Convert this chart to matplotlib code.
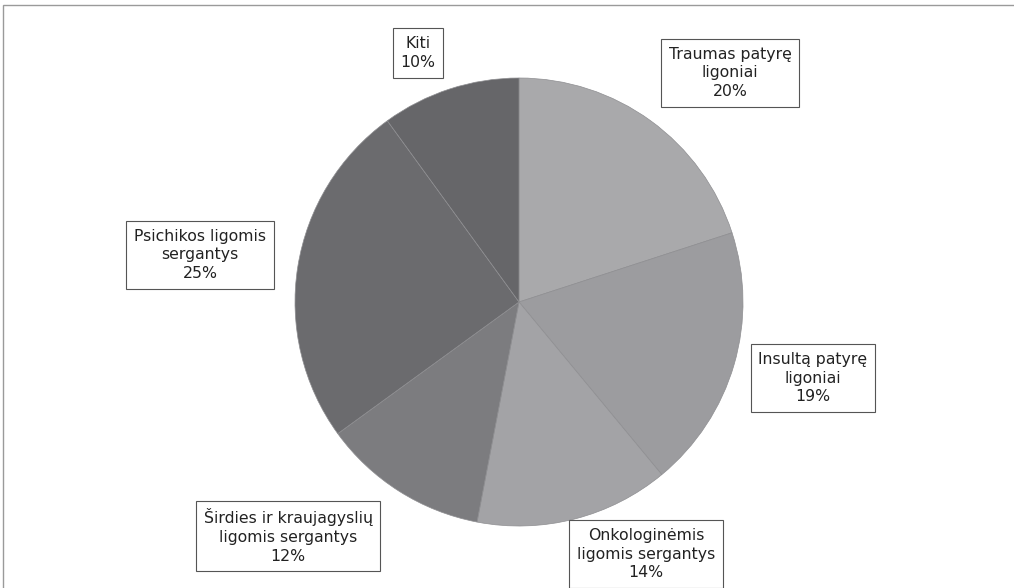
import matplotlib
matplotlib.use("Agg")
import matplotlib.pyplot as plt
from matplotlib.patches import Rectangle

# --- data ---
labels = [
    "Traumas patyrę\nligoniai",
    "Insultą patyrę\nligoniai",
    "Onkologinėmis\nligomis sergantys",
    "Širdies ir kraujagyslių\nligomis sergantys",
    "Psichikos ligomis\nsergantys",
    "Kiti",
]
shares = [20, 19, 14, 12, 25, 10]
colors = ["#a9a9ab", "#9c9c9f", "#a3a3a6", "#7c7c7f", "#6b6b6e", "#666669"]

# label box centres in pixel coords (x right, y down)
label_x = [730, 813, 646, 288, 200, 418]
label_y = [73, 378, 554, 536, 255, 53]

W, H = 1014, 588
fig = plt.figure(figsize=(W / 100, H / 100), dpi=100)
ax = fig.add_axes([0, 0, 1, 1])

ax.pie(shares, colors=colors, startangle=90, counterclock=False,
       center=(519, H - 302), radius=224,
       wedgeprops=dict(linewidth=0.5, edgecolor="#8e8e91"))
ax.set_xlim(0, W)
ax.set_ylim(0, H)
ax.set_aspect("equal")
ax.axis("off")

for lab, val, x, y in zip(labels, shares, label_x, label_y):
    ax.text(x, H - y, f"{lab}\n{val}%", ha="center", va="center",
            fontsize=11.3, color="#222222", linespacing=1.3,
            family="DejaVu Sans",
            bbox=dict(boxstyle="square,pad=0.5", fc="white",
                      ec="#555555", lw=0.8))

# thin scanned frame around the chart
fig.patches.append(Rectangle((3, -10), W + 10, H - 5 + 10, transform=None,
                             fill=False, ec="#9a9a9a", lw=1.0))

fig.savefig("out.png", dpi=100, facecolor="white")
